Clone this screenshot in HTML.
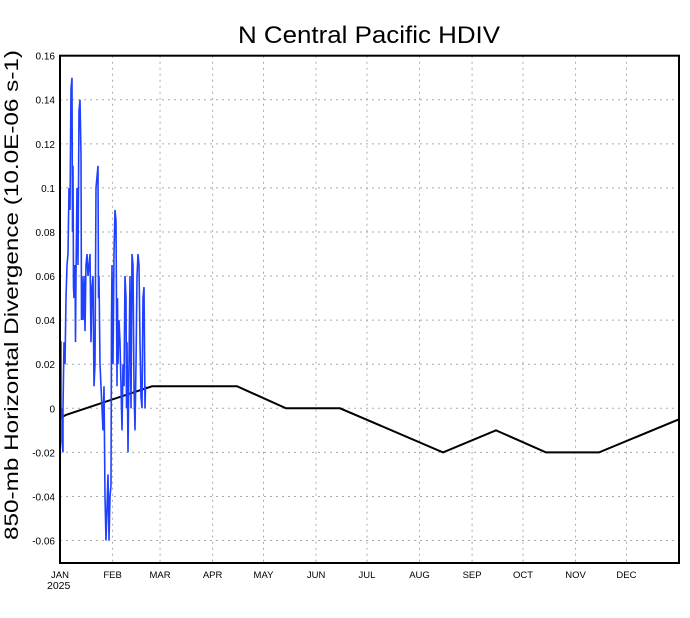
<!DOCTYPE html>
<html><head><meta charset="utf-8"><style>
html,body{margin:0;padding:0;background:#fff;width:690px;height:618px;overflow:hidden}
svg{display:block}
text{font-family:"Liberation Sans",sans-serif;fill:#000}
</style></head><body>
<svg id="s" width="690" height="618" xmlns="http://www.w3.org/2000/svg"></svg>
<script>
const s=document.getElementById('s');
const L=60,R=679,T=55.7,B=563;
const Y=v=>408.3-v*2204;
const dx=(R-L)/365;
let h='';
h+='<text x="369" y="43" font-size="24" text-anchor="middle" textLength="262" lengthAdjust="spacingAndGlyphs">N Central Pacific HDIV</text>';
for(let i=-3;i<=8;i++){const v=i*0.02,y=Y(v);
 if(i<8) h+=`<line x1="${L}" y1="${y}" x2="${R}" y2="${y}" stroke="#aaa" stroke-width="1" stroke-dasharray="2,4"/>`;
 let t=(Math.round(v*100)/100).toString();
 h+=`<text x="55" y="${y+4}" font-size="10" text-anchor="end">${t}</text>`;}
const md=[0,31,59,90,120,151,181,212,243,273,304,334];
const mn=['JAN','FEB','MAR','APR','MAY','JUN','JUL','AUG','SEP','OCT','NOV','DEC'];
md.forEach((d,i)=>{const x=L+d*dx;
 if(i>0) h+=`<line x1="${x}" y1="${T}" x2="${x}" y2="${B}" stroke="#aaa" stroke-width="1" stroke-dasharray="2,4"/>`;
 h+=`<text x="${x}" y="578" font-size="9.5" text-anchor="middle">${mn[i]}</text>`;});
h+='<text x="47" y="589" font-size="10.5">2025</text>';
h+=`<text transform="translate(18,295) rotate(-90)" font-size="19" text-anchor="middle" textLength="490" lengthAdjust="spacingAndGlyphs">850-mb Horizontal Divergence (10.0E-06 s-1)</text>`;
const bk=[[60,-0.0045],[66,-0.003],[152,0.01],[237,0.01],[286,0],[340,0],[443,-0.02],[496,-0.01],[546,-0.02],[599,-0.02],[679,-0.005]];
h+=`<polyline fill="none" stroke="#000" stroke-width="2" points="${bk.map(p=>p[0]+','+Y(p[1])).join(' ')}"/>`;
const bl=[[60,0.09],[60,0.03],[61,0.03],[61,-0.005],[62,0],[62,-0.015],[63,-0.02],[63,0],[64,0.03],[65,0.02],[66,0.05],[67,0.065],[68,0.07],[69,0.1],[70,0.09],[71,0.145],[72,0.15],[72.5,0.08],[73,0.11],[73.5,0.055],[74,0.05],[75,0.065],[75.5,0.03],[76,0.06],[77,0.1],[78,0.065],[79,0.135],[80,0.14],[81,0.115],[81.5,0.04],[82,0.06],[83,0.04],[84,0.06],[85,0.035],[86,0.065],[87,0.07],[88,0.06],[89,0.065],[90,0.07],[90.5,0.05],[91,0.03],[92,0.055],[93,0.06],[94,0.01],[95,0.02],[96,0.1],[97,0.105],[98,0.11],[98.5,0.05],[99,0.06],[100,0.02],[101,0.01],[102,0.0],[103,-0.01],[104,0.01],[105,-0.04],[106,-0.06],[107,-0.045],[108,-0.03],[109,-0.06],[110,-0.04],[111,-0.035],[111.5,0.04],[112,0.065],[113,0.02],[114,0.07],[115,0.09],[116,0.085],[117,0.01],[117.5,0.05],[118,0.02],[119,0.04],[120,0.03],[121,0.01],[122,-0.01],[123,0.02],[124,0.01],[125,0.06],[126,0.05],[126.5,0.0],[127,0.03],[128,-0.02],[129,0.02],[130,0.06],[131,0.0],[132,0.07],[133,0.065],[134,0.01],[135,-0.01],[136,0.02],[137,0.06],[138,0.07],[139,0.065],[140,0.03],[141,0.005],[142,0.0],[143,0.05],[144,0.055],[145,0.0],[145.5,0.01]];
h+=`<polyline fill="none" stroke="#2040ff" stroke-width="1.6" points="${bl.map(p=>p[0]+','+Y(p[1])).join(' ')}"/>`;
h+=`<rect x="${L}" y="${T}" width="${R-L}" height="${B-T}" fill="none" stroke="#000" stroke-width="2"/>`;
s.innerHTML=h;
</script>
</body></html>
